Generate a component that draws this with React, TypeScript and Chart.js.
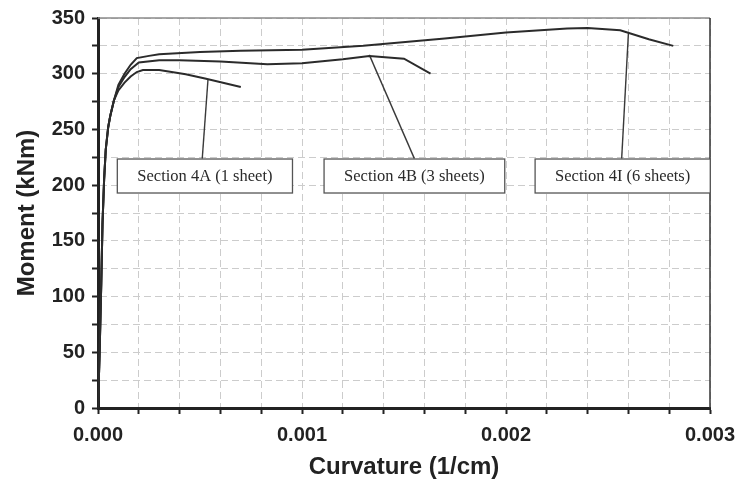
import React, { useEffect, useRef } from 'react';
import { Chart, registerables } from 'chart.js';
Chart.register(...registerables);

// Section 4I (6 sheets)
const curv4I = [0, 0.000008, 0.000016, 0.000022, 0.00003, 0.000038, 0.00005, 0.00006, 0.000078, 0.0001, 0.00013, 0.00016, 0.00019, 0.00025, 0.0003, 0.0005, 0.0007, 0.001, 0.0013, 0.0017, 0.002, 0.0023, 0.0024, 0.00256, 0.0027, 0.00282];
const mom4I = [0, 50, 112, 165, 205, 232, 252, 262, 276, 290, 300, 308, 314, 316, 317.4, 319.5, 320.5, 321.5, 325, 331.5, 337, 340.5, 341, 339, 331, 325];
// Section 4B (3 sheets)
const curv4B = [0, 0.000008, 0.000016, 0.000022, 0.00003, 0.000038, 0.00005, 0.00006, 0.000078, 0.0001, 0.00013, 0.00016, 0.0002, 0.0003, 0.0004, 0.0006, 0.00083, 0.001, 0.0012, 0.00133, 0.0015, 0.00163];
const mom4B = [0, 50, 112, 165, 205, 232, 252, 262, 276, 288, 297, 304, 310, 312, 312, 311, 308.5, 309.3, 313, 316, 313.5, 300];
// Section 4A (1 sheet)
const curv4A = [0, 0.000008, 0.000016, 0.000022, 0.00003, 0.000038, 0.00005, 0.00006, 0.000078, 0.0001, 0.00013, 0.00016, 0.00019, 0.00022, 0.0003, 0.00043, 0.00053, 0.0007];
const mom4A = [0, 50, 112, 165, 205, 232, 252, 262, 276, 285, 292, 297.5, 301.5, 303.3, 303.3, 299.5, 295.5, 288];

// Callout labels
const labelTexts = ['Section 4A (1 sheet)', 'Section 4B (3 sheets)', 'Section 4I (6 sheets)'];
const labelCurv = [0.000524, 0.001551, 0.002572];
const labelMom = [208.2, 208.2, 208.2];
// Leader lines: from curve point to box top
const leaderFromCurv = [0.000539, 0.00133, 0.0026];
const leaderFromMom = [294.4, 316.9, 336.2];
const leaderToCurv = [0.000511, 0.001551, 0.002567];
const leaderToMom = [223.8, 223.8, 223.8];

const xMax = 0.003;
const yMax = 350;

const toPts = (xs: number[], ys: number[]) => xs.map((x, i) => ({ x, y: ys[i] }));

export default function App() {
  const ref = useRef<HTMLCanvasElement>(null);
  useEffect(() => {
    const canvas = ref.current!;
    const curveStyle = { borderColor: '#2b2b2b', borderWidth: 2, pointRadius: 0, tension: 0, fill: false };
    const leaderStyle = { borderColor: '#3a3a3a', borderWidth: 1.4, pointRadius: 0, tension: 0, fill: false };
    const datasets: any[] = [
      { label: '4I', data: toPts(curv4I, mom4I), ...curveStyle },
      { label: '4B', data: toPts(curv4B, mom4B), ...curveStyle },
      { label: '4A', data: toPts(curv4A, mom4A), ...curveStyle },
    ];
    for (let i = 0; i < labelTexts.length; i++) {
      datasets.push({
        label: 'leader' + i,
        data: [{ x: leaderFromCurv[i], y: leaderFromMom[i] }, { x: leaderToCurv[i], y: leaderToMom[i] }],
        ...leaderStyle,
      });
    }

    const framePlugin = {
      id: 'frame',
      afterDatasetsDraw(chart: any) {
        const { ctx, chartArea, scales } = chart;
        ctx.save();
        ctx.strokeStyle = '#8a8a8a';
        ctx.lineWidth = 1.5;
        ctx.beginPath();
        ctx.moveTo(chartArea.left, chartArea.top);
        ctx.lineTo(chartArea.right, chartArea.top);
        ctx.stroke();
        ctx.strokeStyle = '#333';
        ctx.lineWidth = 1.5;
        ctx.beginPath();
        ctx.moveTo(chartArea.right, chartArea.top);
        ctx.lineTo(chartArea.right, chartArea.bottom);
        ctx.stroke();
        ctx.font = '16.5px "Liberation Serif", "Times New Roman", serif';
        ctx.textAlign = 'center';
        ctx.textBaseline = 'middle';
        for (let i = 0; i < labelTexts.length; i++) {
          const cx = scales.x.getPixelForValue(labelCurv[i]);
          const cy = scales.y.getPixelForValue(labelMom[i]);
          const w = ctx.measureText(labelTexts[i]).width + 40;
          const h = 34;
          ctx.fillStyle = '#fff';
          ctx.fillRect(cx - w / 2, cy - h / 2, w, h);
          ctx.strokeStyle = '#555';
          ctx.lineWidth = 1.3;
          ctx.strokeRect(cx - w / 2, cy - h / 2, w, h);
          ctx.fillStyle = '#2a2a2a';
          ctx.fillText(labelTexts[i], cx, cy + 1);
        }
        ctx.restore();
      },
    };

    const chart = new Chart(canvas, {
      type: 'line',
      data: { datasets },
      options: {
        animation: false,
        responsive: false,
        maintainAspectRatio: false,
        layout: { padding: { top: 18, right: 29, left: 0, bottom: 0 } },
        plugins: { legend: { display: false }, tooltip: { enabled: false } },
        scales: {
          x: {
            type: 'linear',
            min: 0,
            max: xMax,
            afterFit: (s: any) => { s.height = 77; s.paddingLeft = 0; s.paddingRight = 0; },
            ticks: {
              stepSize: 0.0002,
              autoSkip: false,
              maxRotation: 0,
              padding: 9,
              color: '#222',
              font: { family: 'Liberation Sans, Arial, sans-serif', size: 20, weight: 'bold' },
              callback: (v: any) => {
                const k = Math.round(Number(v) * 10000);
                return k % 10 === 0 ? (k / 10000).toFixed(3) : '';
              },
            },
            grid: { color: '#cccccc', lineWidth: 1, tickColor: '#222', tickLength: 6, tickWidth: 2 },
            border: { display: true, color: '#222', width: 3, dash: [7, 4] },
            title: {
              display: true,
              text: 'Curvature (1/cm)',
              color: '#222',
              font: { family: 'Liberation Sans, Arial, sans-serif', size: 24, weight: 'bold' },
              padding: { top: 3, bottom: 3 },
            },
          },
          y: {
            type: 'linear',
            min: 0,
            max: yMax,
            afterFit: (s: any) => { s.width = 98; s.paddingTop = 0; s.paddingBottom = 0; },
            ticks: {
              stepSize: 25,
              autoSkip: false,
              padding: 7,
              color: '#222',
              font: { family: 'Liberation Sans, Arial, sans-serif', size: 20, weight: 'bold' },
              callback: (v: any) => (Number(v) % 50 === 0 ? String(v) : ''),
            },
            grid: { color: '#cccccc', lineWidth: 1, tickColor: '#222', tickLength: 6, tickWidth: 2 },
            border: { display: true, color: '#222', width: 3, dash: [7, 4] },
            title: {
              display: true,
              text: 'Moment (kNm)',
              color: '#222',
              font: { family: 'Liberation Sans, Arial, sans-serif', size: 24, weight: 'bold' },
              padding: { top: 13, bottom: 13 },
            },
          },
        },
      },
      plugins: [framePlugin],
    } as any);
    return () => chart.destroy();
  }, []);
  return (
    <div style={{ position: 'fixed', left: 0, top: 0, width: 739, height: 485, background: '#fff' }}>
      <canvas ref={ref} width={739} height={485} style={{ display: 'block' }} />
    </div>
  );
}
